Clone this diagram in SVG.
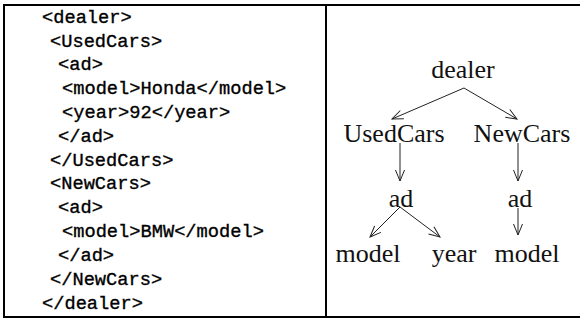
<svg xmlns="http://www.w3.org/2000/svg" width="580" height="320" viewBox="0 0 580 320">
<style>
.code{font-family:"Liberation Mono","DejaVu Sans Mono",monospace;font-size:18.7px;fill:#000;stroke:#000;stroke-width:0.35}
.lbl{font-family:"Liberation Serif","DejaVu Serif",serif;font-size:26px;fill:#111;text-anchor:middle}
.frame{stroke:#000;stroke-width:2;fill:none}
.edge{stroke:#222;stroke-width:1;fill:none;marker-end:url(#arr)}
</style>
<defs>
<marker id="arr" viewBox="-12 -6 13 12" refX="0" refY="0" markerWidth="13" markerHeight="12" markerUnits="userSpaceOnUse" orient="auto">
<path d="M-11,-4.5 L0,0 L-11,4.5" fill="none" stroke="#222" stroke-width="1"/>
</marker>
</defs>
<g id="frame">
<path class="frame" d="M580,5 H4 V317 H580"/>
<line class="frame" x1="326" y1="5" x2="326" y2="317"/>
</g>
<g id="xml-code">
<text class="code" x="42" y="23">&lt;dealer&gt;</text>
<text class="code" x="50" y="47">&lt;UsedCars&gt;</text>
<text class="code" x="58" y="70">&lt;ad&gt;</text>
<text class="code" x="62" y="94">&lt;model&gt;Honda&lt;/model&gt;</text>
<text class="code" x="62" y="118">&lt;year&gt;92&lt;/year&gt;</text>
<text class="code" x="58" y="142">&lt;/ad&gt;</text>
<text class="code" x="50" y="166">&lt;/UsedCars&gt;</text>
<text class="code" x="50" y="189">&lt;NewCars&gt;</text>
<text class="code" x="58" y="213">&lt;ad&gt;</text>
<text class="code" x="62" y="237">&lt;model&gt;BMW&lt;/model&gt;</text>
<text class="code" x="58" y="261">&lt;/ad&gt;</text>
<text class="code" x="50" y="285">&lt;/NewCars&gt;</text>
<text class="code" x="42" y="309">&lt;/dealer&gt;</text>
</g>
<g id="connectors">
<line class="edge" x1="464" y1="88" x2="392" y2="119"/>
<line class="edge" x1="464" y1="88" x2="517" y2="119"/>
<line class="edge" x1="400" y1="143" x2="400" y2="181"/>
<line class="edge" x1="518" y1="143" x2="518" y2="181"/>
<line class="edge" x1="400" y1="207" x2="370" y2="237"/>
<line class="edge" x1="400" y1="207" x2="440" y2="237"/>
<line class="edge" x1="518" y1="208" x2="518" y2="235"/>
</g>
<g id="node-dealer"><text class="lbl" x="463" y="78">dealer</text></g>
<g id="node-usedcars"><text class="lbl" x="394" y="142">UsedCars</text></g>
<g id="node-newcars"><text class="lbl" x="522" y="142">NewCars</text></g>
<g id="node-ad1"><text class="lbl" x="401" y="207">ad</text></g>
<g id="node-ad2"><text class="lbl" x="520" y="207">ad</text></g>
<g id="node-model1"><text class="lbl" x="368" y="262">model</text></g>
<g id="node-year"><text class="lbl" x="454" y="262">year</text></g>
<g id="node-model2"><text class="lbl" x="527" y="262">model</text></g>
</svg>
